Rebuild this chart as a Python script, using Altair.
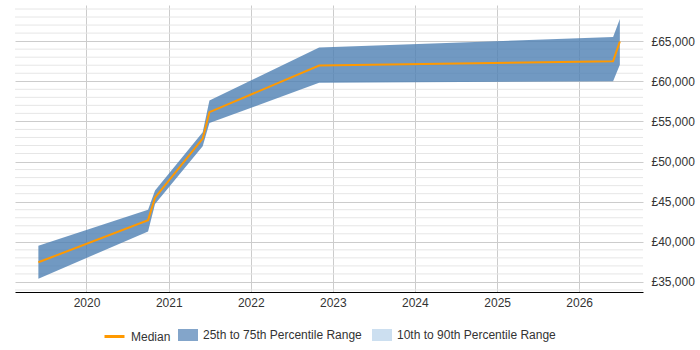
import altair as alt
import pandas as pd

# ---- data ----
dates = ["2019-06-01", "2020-10-01", "2020-11-01", "2021-06-01",
         "2021-07-01", "2022-11-01", "2026-06-01", "2026-07-01"]
p25 = [35400, 41300, 44700, 51900, 54800, 59800, 60000, 62050]
median = [37450, 42700, 45500, 52850, 56150, 61950, 62500, 64950]
p75 = [39500, 44000, 46400, 53650, 57600, 64200, 65500, 67750]

line_names = ["Median"]
line_colors = ["#ff9900"]
band_names = ["25th to 75th Percentile Range", "10th to 90th Percentile Range"]
band_colors = ["#4e7fb3", "#b7d1e9"]

year_ticks = [2020, 2021, 2022, 2023, 2024, 2025, 2026]
major_ticks = [35000, 40000, 45000, 50000, 55000, 60000, 65000]
minor_ticks = [v for v in range(34000, 70000, 1000) if v % 5000 != 0]

df = pd.DataFrame({"date": dates, "p25": p25, "median": median, "p75": p75})
df["band"] = band_names[0]
df["med"] = line_names[0]
minor_df = pd.DataFrame({"v": minor_ticks})

x_domain = [alt.DateTime(year=2019, month=2, date=17, utc=True),
            alt.DateTime(year=2026, month=10, date=12, utc=True)]
y_domain = [33750, 69500]

x_scale = alt.Scale(type="utc", domain=x_domain)
y_scale = alt.Scale(domain=y_domain, nice=False, zero=False)

FONT = "Liberation Sans"

minor = alt.Chart(minor_df).mark_rule(color="#e6e6e6", strokeWidth=1).encode(
    y=alt.Y("v:Q", scale=y_scale),
)

band = alt.Chart(df).mark_area(opacity=0.8).encode(
    x=alt.X("date:T", scale=x_scale,
            axis=alt.Axis(title=None, format="%Y",
                          values=[alt.DateTime(year=y, month=1, date=1, utc=True) for y in year_ticks],
                          grid=True, gridColor="#cccccc", ticks=False,
                          domainColor="#000000", labelFontSize=12, labelColor="#333333",
                          labelFont=FONT, labelPadding=5)),
    y=alt.Y("p25:Q", scale=y_scale,
            axis=alt.Axis(title=None, orient="right", values=major_ticks,
                          labelExpr="'£' + format(datum.value, ',')",
                          grid=True, gridColor="#cccccc", ticks=False, domain=False,
                          labelFontSize=12, labelColor="#333333", labelFont=FONT,
                          labelPadding=8)),
    y2="p75:Q",
    fill=alt.Fill("band:N", scale=alt.Scale(domain=band_names, range=band_colors),
                  legend=alt.Legend(title=None, orient="none", direction="horizontal",
                                    legendX=163, legendY=320,
                                    symbolType="M-1,-0.6H1V0.6H-1Z", symbolSize=400,
                                    symbolOpacity=0.7, symbolStrokeWidth=0,
                                    labelFontSize=12, labelColor="#333333", labelFont=FONT,
                                    labelOffset=5, columnPadding=10, padding=0)),
)

line = alt.Chart(df).mark_line(strokeWidth=2).encode(
    x=alt.X("date:T", scale=x_scale),
    y=alt.Y("median:Q", scale=y_scale),
    stroke=alt.Stroke("med:N", scale=alt.Scale(domain=line_names, range=line_colors),
                      legend=alt.Legend(title=None, orient="none", direction="horizontal",
                                        legendX=88, legendY=320,
                                        symbolType="stroke", symbolSize=400,
                                        symbolStrokeWidth=3,
                                        labelFontSize=12, labelColor="#333333", labelFont=FONT,
                                        labelOffset=5, columnPadding=10, padding=0)),
)

chart = alt.layer(minor, band, line).resolve_scale(
    fill="independent", stroke="independent"
).properties(
    width=628, height=287,
    autosize=alt.AutoSizeParams(type="none"),
    padding={"left": 15, "top": 5, "right": 57, "bottom": 58},
).configure_view(stroke=None)

chart.save("out.html", embed_options={"renderer": "svg", "actions": False})
